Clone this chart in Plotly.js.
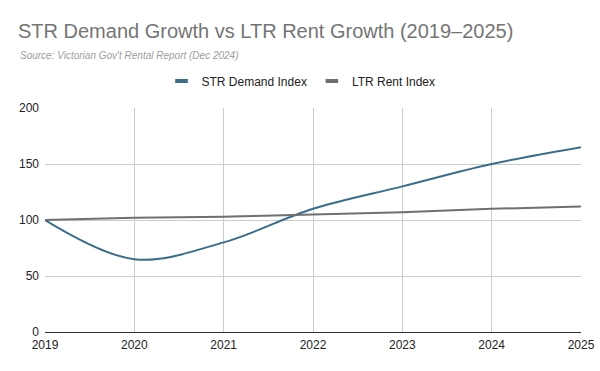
<!DOCTYPE html>
<html>
<head>
<meta charset="utf-8">
<script src="https://cdn.plot.ly/plotly-3.0.1.min.js"></script>
<style>html,body{margin:0;padding:0;background:#fff;}#chart{width:600px;height:371px;}</style>
</head>
<body>
<div id="chart"></div>
<script>
const years = [2019, 2020, 2021, 2022, 2023, 2024, 2025];
const strDemand = [100, 65, 80, 110, 130, 150, 165];
const ltrRent = [100, 102, 103, 105, 107, 110, 112];
const tickYears = ['2019', '2020', '2021', '2022', '2023', '2024', '2025'];
const seriesNames = ['STR Demand Index', 'LTR Rent Index'];
const seriesColors = ['#3a6d8c', '#6f6f6f'];

const seriesData = [strDemand, ltrRent];
const traces = [];
seriesData.forEach((vals, i) => {
  traces.push({x: years, y: vals, name: seriesNames[i], type: 'scatter', mode: 'lines',
    showlegend: false, line: {color: seriesColors[i], width: 2, shape: 'spline', smoothing: 1}});
});
seriesData.forEach((vals, i) => {
  traces.push({x: [null], y: [null], name: seriesNames[i], type: 'scatter', mode: 'markers',
    showlegend: true,
    marker: {symbol: 'line-ew', size: 9, color: seriesColors[i], line: {color: seriesColors[i], width: 4}}});
});

const FONT = 'Arial, "Liberation Sans", sans-serif';
const layout = {
  width: 600, height: 371,
  margin: {l: 45, r: 19, t: 108, b: 39},
  paper_bgcolor: '#fff', plot_bgcolor: '#fff',
  font: {family: FONT, color: '#222', size: 12},
  title: {text: 'STR Demand Growth vs LTR Rent Growth (2019–2025)',
    font: {family: FONT, size: 20, color: '#757575'},
    xref: 'container', x: 18/600, xanchor: 'left',
    yref: 'container', y: 1 - 31/371, yanchor: 'middle'},
  showlegend: true,
  legend: {orientation: 'h', x: 0.5 - 12/536, xanchor: 'center', y: (371-81-39)/224, yanchor: 'middle',
    font: {family: FONT, size: 12, color: '#222'}, itemwidth: 30, traceorder: 'normal'},
  annotations: [{text: "<i>Source: Victorian Gov't Rental Report (Dec 2024)</i>",
    xref: 'paper', yref: 'paper', x: (18-45)/536, y: (371-56-39)/224,
    xanchor: 'left', yanchor: 'middle', showarrow: false,
    font: {family: FONT, size: 10, color: '#9e9e9e'}}],
  xaxis: {range: [2019, 2025], tickvals: years, ticktext: tickYears,
    showgrid: true, gridcolor: '#cccccc', gridwidth: 1, zeroline: false,
    showline: false, ticks: '', ticklabelstandoff: 4, tickfont: {family: FONT, size: 12, color: '#222'}, fixedrange: true},
  yaxis: {range: [0, 200], tickvals: [0, 50, 100, 150, 200],
    showgrid: true, gridcolor: '#cccccc', gridwidth: 1,
    zeroline: true, zerolinecolor: '#333', zerolinewidth: 1,
    showline: false, ticks: '', ticklabelstandoff: 5, tickfont: {family: FONT, size: 12, color: '#222'}, fixedrange: true}
};

Plotly.newPlot('chart', traces, layout, {displayModeBar: false, staticPlot: true});
</script>
</body>
</html>
